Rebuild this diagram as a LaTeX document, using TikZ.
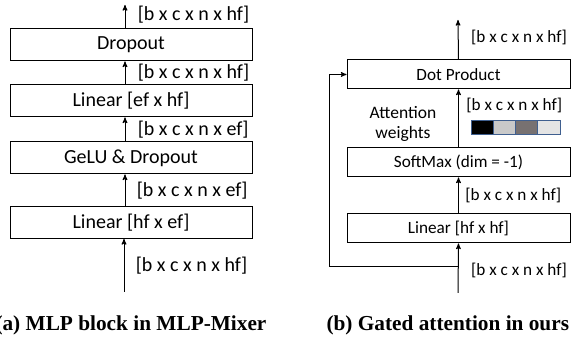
\documentclass[tikz,border=0pt]{standalone}
\usepackage{fontspec}
\setmainfont{Carlito}
\newfontfamily\capfont{Liberation Serif}
\usetikzlibrary{arrows}

\definecolor{cellblue}{HTML}{3F5F8F}
\definecolor{cellA}{HTML}{000000}
\definecolor{cellB}{HTML}{C9C9C9}
\definecolor{cellC}{HTML}{777171}
\definecolor{cellD}{HTML}{E4E4E4}

\begin{document}
\begin{tikzpicture}[x=1pt,y=1pt,>=stealth',line width=1pt,
  layer/.style={draw,rectangle,minimum height=32pt,font=\fontsize{20}{22}\selectfont,inner sep=0pt},
  dims/.style={right,font=\fontsize{20}{22}\selectfont,xshift=9pt},
  layerb/.style={layer,minimum width=223pt,minimum height=29pt,font=\fontsize{17.2}{19}\selectfont},
  dimsb/.style={dims,font=\fontsize{17.2}{19}\selectfont},
  caption/.style={font=\capfont\bfseries\fontsize{21.3}{24}\selectfont,anchor=base west,inner sep=0pt}]

\useasboundingbox (0,0) rectangle (574,339);
\begin{scope}
\clip (0,0) rectangle (574,339);

% (a) MLP block
\node[layer,minimum width=242pt] (drop)  at (131,294)  {Dropout};
\node[layer,minimum width=242pt] (lin2)  at (131,238)  {Linear [ef x hf]};
\node[layer,minimum width=242pt] (gelu)  at (131,181)  {GeLU \& Dropout};
\node[layer,minimum width=242pt] (lin1)  at (131,116.5) {Linear [hf x ef]};
\coordinate (outa) at (125,334);
\coordinate (ina)  at (124,47);

\path[->] ([xshift=-6pt]drop.north) edge node[dims,yshift=2pt]{[b x c x n x hf]} (outa)
          ([xshift=-6pt]lin2.north) edge node[dims]{[b x c x n x hf]} ([xshift=-6pt]drop.south)
          ([xshift=-6pt]gelu.north) edge node[dims]{[b x c x n x ef]} ([xshift=-6pt]lin2.south)
          ([xshift=-6pt]lin1.north) edge node[dims,xshift=-1pt]{[b x c x n x ef]} ([xshift=-6pt]gelu.south)
          (ina) edge node[dims,xshift=-1pt]{[b x c x n x hf]} ([xshift=-7pt]lin1.south);

% (b) gated attention
\node[layerb] (dot)  at (458.5,264.5) {Dot Product};
\node[layerb] (soft) at (458.5,176.5) {SoftMax (dim = -1)};
\node[layerb] (linb) at (458.5,110.5) {Linear [hf x hf]};
\coordinate (outb) at (458,319);
\coordinate (inb)  at (458,46);
\coordinate (fork) at (458,72);

\path[->] (dot.north) edge node[dimsb,yshift=2pt]{[b x c x n x hf]} (outb)
          (linb.north) edge node[dimsb,xshift=-6pt]{[b x c x n x hf]} (soft.south)
          (inb) edge node[dimsb,yshift=-2pt]{[b x c x n x hf]} (linb.south);
\draw[->] (soft.north) -- (dot.south);
\draw[->] (fork) -- ++(-129,0) |- (dot.west);

\node[anchor=west,font=\fontsize{17.2}{19}\selectfont] (shp) at (462.5,234) {[b x c x n x hf]};
\node[align=center,font=\fontsize{17.5}{20}\selectfont] (attw) at (403,215) {Attention\\weights};

% attention weight cells
\foreach \c [count=\i from 0] in {cellA,cellB,cellC,cellD}
  \draw[cellblue,line width=0.8pt,fill=\c] (471+22.25*\i,205) rectangle ++(22.25,14);

\node[caption] (capa) at (-5,8) {(a) MLP block in MLP-Mixer};
\node[caption] (capb) at (326,8) {(b) Gated attention in ours};
\end{scope}
\end{tikzpicture}
\end{document}
